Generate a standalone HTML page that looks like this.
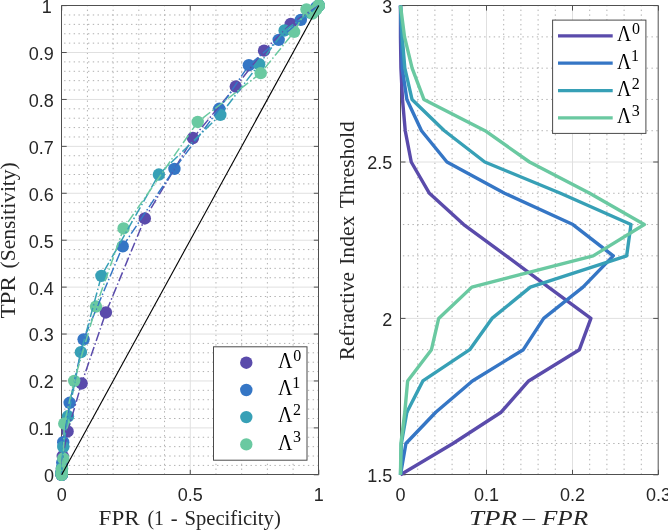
<!DOCTYPE html><html><head><meta charset="utf-8"><style>html,body{margin:0;padding:0;background:#fff;width:668px;height:530px;overflow:hidden}svg{display:block;filter:blur(0.45px)}.tk{font-family:"Liberation Sans",sans-serif;font-size:18px;fill:#262626}</style></head><body>
<svg width="668" height="530" viewBox="0 0 668 530">
<path d="M87.41 474.80V5.60M113.12 474.80V5.60M138.83 474.80V5.60M164.54 474.80V5.60M215.96 474.80V5.60M241.67 474.80V5.60M267.38 474.80V5.60M293.09 474.80V5.60" stroke="#b0b0b0" stroke-width="1" stroke-dasharray="1.4 3.38" stroke-dashoffset="-0.1" fill="none"/>
<path d="M61.70 465.42H318.80M61.70 456.03H318.80M61.70 446.65H318.80M61.70 437.26H318.80M61.70 418.50H318.80M61.70 409.11H318.80M61.70 399.73H318.80M61.70 390.34H318.80M61.70 371.58H318.80M61.70 362.19H318.80M61.70 352.81H318.80M61.70 343.42H318.80M61.70 324.66H318.80M61.70 315.27H318.80M61.70 305.89H318.80M61.70 296.50H318.80M61.70 277.74H318.80M61.70 268.35H318.80M61.70 258.97H318.80M61.70 249.58H318.80M61.70 230.82H318.80M61.70 221.43H318.80M61.70 212.05H318.80M61.70 202.66H318.80M61.70 183.90H318.80M61.70 174.51H318.80M61.70 165.13H318.80M61.70 155.74H318.80M61.70 136.98H318.80M61.70 127.59H318.80M61.70 118.21H318.80M61.70 108.82H318.80M61.70 90.06H318.80M61.70 80.67H318.80M61.70 71.29H318.80M61.70 61.90H318.80M61.70 43.14H318.80M61.70 33.75H318.80M61.70 24.37H318.80M61.70 14.98H318.80" stroke="#b0b0b0" stroke-width="1" stroke-dasharray="1.4 3.38" stroke-dashoffset="-2.4" fill="none"/>
<path d="M190.25 5.60V474.80M61.70 427.88H318.80M61.70 380.96H318.80M61.70 334.04H318.80M61.70 287.12H318.80M61.70 240.20H318.80M61.70 193.28H318.80M61.70 146.36H318.80M61.70 99.44H318.80M61.70 52.52H318.80" stroke="#e0e0e0" stroke-width="1" fill="none"/>
<path d="M61.5 5.5H318.5V474.5H61.5ZM61.70 474.80h5M318.80 474.80h-5M61.70 427.88h5M318.80 427.88h-5M61.70 380.96h5M318.80 380.96h-5M61.70 334.04h5M318.80 334.04h-5M61.70 287.12h5M318.80 287.12h-5M61.70 240.20h5M318.80 240.20h-5M61.70 193.28h5M318.80 193.28h-5M61.70 146.36h5M318.80 146.36h-5M61.70 99.44h5M318.80 99.44h-5M61.70 52.52h5M318.80 52.52h-5M61.70 5.60h5M318.80 5.60h-5M61.70 474.80v-5M61.70 5.60v5M190.25 474.80v-5M190.25 5.60v5M318.80 474.80v-5M318.80 5.60v5" stroke="#505050" stroke-width="1" fill="none"/>
<circle cx="318.80" cy="5.60" r="6.2" fill="#5a4bab"/>
<circle cx="290.78" cy="23.90" r="6.2" fill="#5a4bab"/>
<circle cx="264.04" cy="50.64" r="6.2" fill="#5a4bab"/>
<circle cx="235.76" cy="86.54" r="6.2" fill="#5a4bab"/>
<circle cx="192.95" cy="138.06" r="6.2" fill="#5a4bab"/>
<circle cx="144.82" cy="218.48" r="6.2" fill="#5a4bab"/>
<circle cx="105.92" cy="312.46" r="6.2" fill="#5a4bab"/>
<circle cx="81.60" cy="383.45" r="6.2" fill="#5a4bab"/>
<circle cx="67.61" cy="431.49" r="6.2" fill="#5a4bab"/>
<circle cx="62.73" cy="456.03" r="6.2" fill="#5a4bab"/>
<circle cx="61.96" cy="468.47" r="6.2" fill="#5a4bab"/>
<circle cx="61.70" cy="472.22" r="6.2" fill="#5a4bab"/>
<circle cx="61.70" cy="473.72" r="6.2" fill="#5a4bab"/>
<circle cx="61.70" cy="474.57" r="6.2" fill="#5a4bab"/>
<circle cx="61.70" cy="474.80" r="6.2" fill="#5a4bab"/>
<circle cx="61.70" cy="474.80" r="6.2" fill="#5a4bab"/>
<circle cx="318.80" cy="5.60" r="6.2" fill="#3576c5"/>
<circle cx="316.23" cy="7.48" r="6.2" fill="#3576c5"/>
<circle cx="300.80" cy="19.91" r="6.2" fill="#3576c5"/>
<circle cx="278.69" cy="39.85" r="6.2" fill="#3576c5"/>
<circle cx="248.87" cy="65.19" r="6.2" fill="#3576c5"/>
<circle cx="219.30" cy="108.82" r="6.2" fill="#3576c5"/>
<circle cx="174.44" cy="168.88" r="6.2" fill="#3576c5"/>
<circle cx="122.74" cy="246.39" r="6.2" fill="#3576c5"/>
<circle cx="83.60" cy="339.34" r="6.2" fill="#3576c5"/>
<circle cx="69.67" cy="402.78" r="6.2" fill="#3576c5"/>
<circle cx="63.24" cy="442.19" r="6.2" fill="#3576c5"/>
<circle cx="62.21" cy="462.60" r="6.2" fill="#3576c5"/>
<circle cx="61.70" cy="471.28" r="6.2" fill="#3576c5"/>
<circle cx="61.70" cy="473.86" r="6.2" fill="#3576c5"/>
<circle cx="61.70" cy="474.33" r="6.2" fill="#3576c5"/>
<circle cx="61.70" cy="474.80" r="6.2" fill="#3576c5"/>
<circle cx="318.80" cy="5.60" r="6.2" fill="#37a0b6"/>
<circle cx="318.29" cy="6.07" r="6.2" fill="#37a0b6"/>
<circle cx="314.94" cy="10.29" r="6.2" fill="#37a0b6"/>
<circle cx="309.80" cy="12.64" r="6.2" fill="#37a0b6"/>
<circle cx="284.61" cy="30.47" r="6.2" fill="#37a0b6"/>
<circle cx="259.15" cy="64.25" r="6.2" fill="#37a0b6"/>
<circle cx="220.33" cy="114.92" r="6.2" fill="#37a0b6"/>
<circle cx="158.88" cy="174.51" r="6.2" fill="#37a0b6"/>
<circle cx="101.42" cy="275.86" r="6.2" fill="#37a0b6"/>
<circle cx="80.91" cy="352.15" r="6.2" fill="#37a0b6"/>
<circle cx="68.00" cy="416.29" r="6.2" fill="#37a0b6"/>
<circle cx="63.29" cy="446.88" r="6.2" fill="#37a0b6"/>
<circle cx="61.96" cy="468.04" r="6.2" fill="#37a0b6"/>
<circle cx="61.70" cy="472.45" r="6.2" fill="#37a0b6"/>
<circle cx="61.70" cy="473.86" r="6.2" fill="#37a0b6"/>
<circle cx="61.70" cy="474.80" r="6.2" fill="#37a0b6"/>
<circle cx="318.80" cy="5.60" r="6.2" fill="#6ac9a1"/>
<circle cx="318.80" cy="5.60" r="6.2" fill="#6ac9a1"/>
<circle cx="316.23" cy="9.35" r="6.2" fill="#6ac9a1"/>
<circle cx="312.37" cy="13.58" r="6.2" fill="#6ac9a1"/>
<circle cx="306.46" cy="9.49" r="6.2" fill="#6ac9a1"/>
<circle cx="294.12" cy="31.88" r="6.2" fill="#6ac9a1"/>
<circle cx="260.70" cy="73.16" r="6.2" fill="#6ac9a1"/>
<circle cx="197.71" cy="121.96" r="6.2" fill="#6ac9a1"/>
<circle cx="123.53" cy="228.47" r="6.2" fill="#6ac9a1"/>
<circle cx="96.02" cy="306.54" r="6.2" fill="#6ac9a1"/>
<circle cx="74.20" cy="380.87" r="6.2" fill="#6ac9a1"/>
<circle cx="64.25" cy="423.66" r="6.2" fill="#6ac9a1"/>
<circle cx="63.24" cy="458.38" r="6.2" fill="#6ac9a1"/>
<circle cx="61.96" cy="469.17" r="6.2" fill="#6ac9a1"/>
<circle cx="61.70" cy="472.45" r="6.2" fill="#6ac9a1"/>
<circle cx="61.70" cy="474.80" r="6.2" fill="#6ac9a1"/>
<polyline points="318.80,5.60 290.78,23.90 264.04,50.64 235.76,86.54 192.95,138.06 144.82,218.48 105.92,312.46 81.60,383.45 67.61,431.49 62.73,456.03 61.96,468.47 61.70,472.22 61.70,473.72 61.70,474.57 61.70,474.80 61.70,474.80" fill="none" stroke="#5a4bab" stroke-width="1.5" stroke-dasharray="9.5 2.5 1.5 2.5"/>
<polyline points="318.80,5.60 316.23,7.48 300.80,19.91 278.69,39.85 248.87,65.19 219.30,108.82 174.44,168.88 122.74,246.39 83.60,339.34 69.67,402.78 63.24,442.19 62.21,462.60 61.70,471.28 61.70,473.86 61.70,474.33 61.70,474.80" fill="none" stroke="#3576c5" stroke-width="1.5" stroke-dasharray="9.5 2.5 1.5 2.5"/>
<polyline points="318.80,5.60 318.29,6.07 314.94,10.29 309.80,12.64 284.61,30.47 259.15,64.25 220.33,114.92 158.88,174.51 101.42,275.86 80.91,352.15 68.00,416.29 63.29,446.88 61.96,468.04 61.70,472.45 61.70,473.86 61.70,474.80" fill="none" stroke="#37a0b6" stroke-width="1.5" stroke-dasharray="9.5 2.5 1.5 2.5"/>
<polyline points="318.80,5.60 318.80,5.60 316.23,9.35 312.37,13.58 306.46,9.49 294.12,31.88 260.70,73.16 197.71,121.96 123.53,228.47 96.02,306.54 74.20,380.87 64.25,423.66 63.24,458.38 61.96,469.17 61.70,472.45 61.70,474.80" fill="none" stroke="#6ac9a1" stroke-width="1.5" stroke-dasharray="9.5 2.5 1.5 2.5"/>
<line x1="61.70" y1="474.80" x2="318.80" y2="5.60" stroke="#000" stroke-width="1.1"/>
<text class="tk" x="53.9" y="482.20" text-anchor="end">0</text>
<text class="tk" x="53.9" y="435.28" text-anchor="end">0.1</text>
<text class="tk" x="53.9" y="388.36" text-anchor="end">0.2</text>
<text class="tk" x="53.9" y="341.44" text-anchor="end">0.3</text>
<text class="tk" x="53.9" y="294.52" text-anchor="end">0.4</text>
<text class="tk" x="53.9" y="247.60" text-anchor="end">0.5</text>
<text class="tk" x="53.9" y="200.68" text-anchor="end">0.6</text>
<text class="tk" x="53.9" y="153.76" text-anchor="end">0.7</text>
<text class="tk" x="53.9" y="106.84" text-anchor="end">0.8</text>
<text class="tk" x="53.9" y="59.92" text-anchor="end">0.9</text>
<text class="tk" x="51.7" y="13.00" text-anchor="end">1</text>
<text class="tk" x="61.70" y="501.3" text-anchor="middle">0</text>
<text class="tk" x="190.25" y="501.3" text-anchor="middle">0.5</text>
<text class="tk" x="318.80" y="501.3" text-anchor="middle">1</text>
<rect x="213.5" y="346.8" width="93.5" height="113.4" fill="#fff" stroke="#4a4a4a" stroke-width="1"/>
<circle cx="246.3" cy="362.7" r="6.2" fill="#5a4bab"/>
<text transform="translate(277.88 367.90) scale(0.8677 1)" font-family="Liberation Serif" font-size="23" fill="#000">&#923;</text><text x="293.20" y="360.70" font-family="Liberation Serif" font-size="16" fill="#000">0</text>
<circle cx="246.3" cy="390.0" r="6.2" fill="#3576c5"/>
<text transform="translate(277.88 395.20) scale(0.8677 1)" font-family="Liberation Serif" font-size="23" fill="#000">&#923;</text><text x="292.20" y="388.00" font-family="Liberation Serif" font-size="16" fill="#000">1</text>
<circle cx="246.3" cy="417.1" r="6.2" fill="#37a0b6"/>
<text transform="translate(277.88 422.30) scale(0.8677 1)" font-family="Liberation Serif" font-size="23" fill="#000">&#923;</text><text x="292.95" y="415.10" font-family="Liberation Serif" font-size="16" fill="#000">2</text>
<circle cx="246.3" cy="444.4" r="6.2" fill="#6ac9a1"/>
<text transform="translate(277.88 449.60) scale(0.8677 1)" font-family="Liberation Serif" font-size="23" fill="#000">&#923;</text><text x="292.95" y="442.40" font-family="Liberation Serif" font-size="16" fill="#000">3</text>
<path d="M417.70 474.80V5.60M434.90 474.80V5.60M452.10 474.80V5.60M469.30 474.80V5.60M503.70 474.80V5.60M520.90 474.80V5.60M538.10 474.80V5.60M555.30 474.80V5.60M589.70 474.80V5.60M606.90 474.80V5.60M624.10 474.80V5.60M641.30 474.80V5.60" stroke="#b0b0b0" stroke-width="1" stroke-dasharray="1.4 3.38" stroke-dashoffset="-0.1" fill="none"/>
<path d="M400.50 443.52H658.20M400.50 412.24H658.20M400.50 380.96H658.20M400.50 349.68H658.20M400.50 287.12H658.20M400.50 255.84H658.20M400.50 224.56H658.20M400.50 193.28H658.20M400.50 130.72H658.20M400.50 99.44H658.20M400.50 68.16H658.20M400.50 36.88H658.20" stroke="#b0b0b0" stroke-width="1" stroke-dasharray="1.4 3.38" stroke-dashoffset="-2.4" fill="none"/>
<path d="M486.50 5.60V474.80M572.50 5.60V474.80M400.50 318.40H658.20M400.50 162.00H658.20" stroke="#e0e0e0" stroke-width="1" fill="none"/>
<path d="M400.5 5.5H658.2V474.5H400.5ZM400.50 474.80h5M658.20 474.80h-5M400.50 318.40h5M658.20 318.40h-5M400.50 162.00h5M658.20 162.00h-5M400.50 5.60h5M658.20 5.60h-5M400.50 474.80v-5M400.50 5.60v5M486.50 474.80v-5M486.50 5.60v5M572.50 474.80v-5M572.50 5.60v5M658.50 474.80v-5M658.50 5.60v5" stroke="#505050" stroke-width="1" fill="none"/>
<polyline points="400.50,474.80 452.96,443.52 501.12,412.24 528.64,380.96 579.38,349.68 590.90,318.40 548.42,287.12 506.28,255.84 463.71,224.56 429.40,193.28 411.25,162.00 405.23,130.72 402.48,99.44 400.93,68.16 400.50,36.88 400.50,5.60" fill="none" stroke="#5a4bab" stroke-width="3.4" stroke-linejoin="round"/>
<polyline points="400.50,474.80 405.92,443.52 435.76,412.24 472.40,380.96 523.31,349.68 543.69,318.40 582.99,287.12 613.26,255.84 572.93,224.56 504.56,193.28 446.94,162.00 421.48,130.72 406.86,99.44 402.22,68.16 401.36,36.88 400.50,5.60" fill="none" stroke="#3576c5" stroke-width="3.4" stroke-linejoin="round"/>
<polyline points="400.50,474.80 401.36,443.52 406.86,412.24 422.86,380.96 469.73,349.68 492.00,318.40 530.36,287.12 626.68,255.84 630.98,224.56 560.46,193.28 484.78,162.00 444.36,130.72 412.02,99.44 404.80,68.16 402.22,36.88 400.50,5.60" fill="none" stroke="#37a0b6" stroke-width="3.4" stroke-linejoin="round"/>
<polyline points="400.50,474.80 400.93,443.52 404.80,412.24 407.64,380.96 431.46,349.68 438.68,318.40 471.88,287.12 593.14,255.84 644.31,224.56 589.70,193.28 529.50,162.00 485.04,130.72 423.89,99.44 412.11,68.16 404.54,36.88 400.50,5.60" fill="none" stroke="#6ac9a1" stroke-width="3.4" stroke-linejoin="round"/>
<text class="tk" x="392.3" y="482.20" text-anchor="end">1.5</text>
<text class="tk" x="392.3" y="325.80" text-anchor="end">2</text>
<text class="tk" x="392.3" y="169.40" text-anchor="end">2.5</text>
<text class="tk" x="392.3" y="13.00" text-anchor="end">3</text>
<text class="tk" x="400.50" y="501.3" text-anchor="middle">0</text>
<text class="tk" x="486.50" y="501.3" text-anchor="middle">0.1</text>
<text class="tk" x="572.50" y="501.3" text-anchor="middle">0.2</text>
<text class="tk" x="658.50" y="501.3" text-anchor="middle">0.3</text>
<rect x="552.6" y="20.1" width="93.3" height="113.3" fill="#fff" stroke="#4a4a4a" stroke-width="1"/>
<line x1="558" y1="35.9" x2="612.7" y2="35.9" stroke="#5a4bab" stroke-width="3.3"/>
<text transform="translate(616.99 41.30) scale(0.8492 1)" font-family="Liberation Serif" font-size="23" fill="#000">&#923;</text><text x="631.90" y="33.80" font-family="Liberation Serif" font-size="16" fill="#000">0</text>
<line x1="558" y1="63.2" x2="612.7" y2="63.2" stroke="#3576c5" stroke-width="3.3"/>
<text transform="translate(616.99 68.60) scale(0.8492 1)" font-family="Liberation Serif" font-size="23" fill="#000">&#923;</text><text x="630.90" y="61.10" font-family="Liberation Serif" font-size="16" fill="#000">1</text>
<line x1="558" y1="90.6" x2="612.7" y2="90.6" stroke="#37a0b6" stroke-width="3.3"/>
<text transform="translate(616.99 96.00) scale(0.8492 1)" font-family="Liberation Serif" font-size="23" fill="#000">&#923;</text><text x="631.65" y="88.50" font-family="Liberation Serif" font-size="16" fill="#000">2</text>
<line x1="558" y1="117.9" x2="612.7" y2="117.9" stroke="#6ac9a1" stroke-width="3.3"/>
<text transform="translate(616.99 123.30) scale(0.8492 1)" font-family="Liberation Serif" font-size="23" fill="#000">&#923;</text><text x="631.65" y="115.80" font-family="Liberation Serif" font-size="16" fill="#000">3</text>
<text transform="translate(98.62 524.80) scale(1.1514 1)" font-family="Liberation Serif" font-style="normal" font-size="20" fill="#262626">FPR</text>
<text transform="translate(147.51 524.80) scale(0.9931 1)" font-family="Liberation Serif" font-style="normal" font-size="20" fill="#262626">(1</text>
<text transform="translate(170.63 524.80) scale(1.0286 1)" font-family="Liberation Serif" font-style="normal" font-size="20" fill="#262626">-</text>
<text transform="translate(184.51 524.80) scale(1.0323 1)" font-family="Liberation Serif" font-style="normal" font-size="20" fill="#262626">Specificity)</text>
<text transform="translate(15.10 318.59) rotate(-90) scale(1.1559 1)" font-family="Liberation Serif" font-style="normal" font-size="20" fill="#262626">TPR</text>
<text transform="translate(15.10 268.47) rotate(-90) scale(1.0742 1)" font-family="Liberation Serif" font-style="normal" font-size="20" fill="#262626">(Sensitivity)</text>
<text transform="translate(354.30 360.13) rotate(-90) scale(1.0585 1)" font-family="Liberation Serif" font-style="normal" font-size="20" fill="#262626">Refractive</text>
<text transform="translate(354.30 264.81) rotate(-90) scale(1.0787 1)" font-family="Liberation Serif" font-style="normal" font-size="20" fill="#262626">Index</text>
<text transform="translate(354.30 208.37) rotate(-90) scale(1.0762 1)" font-family="Liberation Serif" font-style="normal" font-size="20" fill="#262626">Threshold</text>
<text transform="translate(469.12 524.90) scale(1.3471 1)" font-family="Liberation Serif" font-style="italic" font-size="20" fill="#262626">TPR</text>
<text transform="translate(521.15 525.90) scale(1.3514 1)" font-family="Liberation Serif" font-style="normal" font-size="20" fill="#262626">&#8722;</text>
<text transform="translate(541.90 524.90) scale(1.2607 1)" font-family="Liberation Serif" font-style="italic" font-size="20" fill="#262626">FPR</text>
</svg></body></html>
